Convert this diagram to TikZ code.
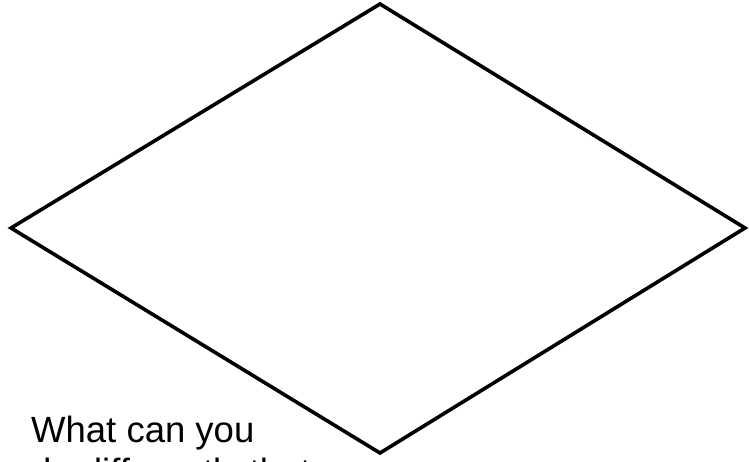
\documentclass[tikz,border=0pt]{standalone}
\usepackage{fontspec}
\setmainfont{Liberation Sans}
\begin{document}
\begin{tikzpicture}[x=1pt,y=-1pt,
  outline/.style={draw=black,line width=3.6pt,line join=miter},
  label/.style={anchor=base west,inner sep=0pt,font=\fontsize{36.5}{42}\selectfont}]
\useasboundingbox (0,0) rectangle (749,462);
\clip (0,0) rectangle (749,462);
\coordinate (top) at (380,4);
\coordinate (right) at (745,228);
\coordinate (bottom) at (380,453);
\coordinate (left) at (11,228);
\draw[outline] (top) -- (right) -- (bottom) -- (left) -- cycle;
\node[label] (line1) at (31,442) {What can you};
\node[label] (line2) at (31,484) {do differently that};
\end{tikzpicture}
\end{document}
